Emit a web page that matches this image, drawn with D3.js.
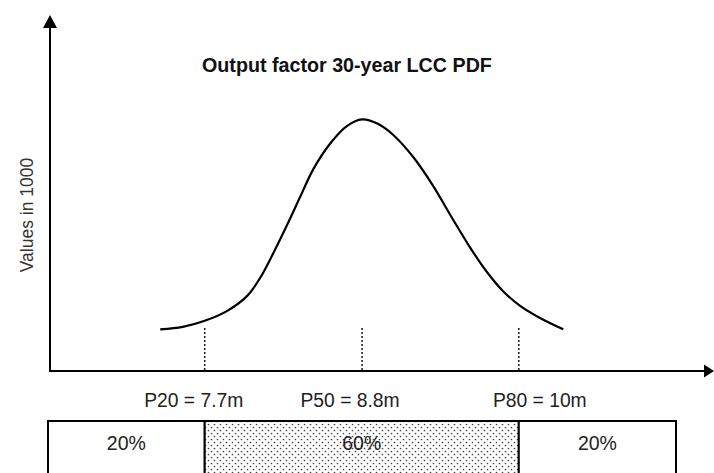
<!DOCTYPE html>
<html>
<head>
<meta charset="utf-8">
<script src="https://cdn.jsdelivr.net/npm/d3@7/dist/d3.min.js"></script>
<style>
  html, body { margin: 0; padding: 0; background: #fff; }
  svg { display: block; }
  text { font-family: "Liberation Sans", Arial, sans-serif; }
</style>
</head>
<body>
<script>
// ---- Data (schematic units) ----
const title = "Output factor 30-year LCC PDF";
const yLabel = "Values in 1000";
// PDF curve: position along the x axis (0-100) and density (0-100)
const curveX = [16.6, 20.0, 23.3, 26.7, 29.7, 31.6, 33.6, 35.7, 37.7, 39.6, 42.2, 44.7, 47.0,
                49.3, 51.7, 54.7, 57.7, 60.2, 63.3, 65.8, 68.2, 70.8, 73.8, 77.3];
const curveY = [11.7, 12.4, 14.1, 16.9, 21.1, 26.0, 33.0, 41.0, 49.0, 56.5, 63.9, 68.8, 70.7,
                69.5, 66.3, 60.1, 52.0, 44.1, 34.6, 27.8, 22.5, 18.3, 14.9, 11.7];
// percentile markers
const percentileNames = ["P20", "P50", "P80"];
const percentileValues = ["7.7m", "8.8m", "10m"];
const percentilePos = [23.3, 47.0, 70.6];
const markerHeight = 12.1;
// probability bands
const bandLabels = ["20%", "60%", "20%"];

// ---- Layout ----
const W = 714, H = 473;
const labelDx = [-11, -12, 21];
const boxLeft = 48, boxRight = 676, boxTop = 421, boxBottom = 495;

const svg = d3.select("body").append("svg").attr("width", W).attr("height", H);

const x = d3.scaleLinear().domain([0, 100]).range([50, 714]);
const y = d3.scaleLinear().domain([0, 100]).range([371, 15]);

const defs = svg.append("defs");
const pat = defs.append("pattern").attr("id", "dots")
  .attr("patternUnits", "userSpaceOnUse").attr("width", 6).attr("height", 6);
pat.append("rect").attr("width", 6).attr("height", 6).attr("fill", "#fff");
pat.append("circle").attr("cx", 1.5).attr("cy", 1.5).attr("r", 0.85).attr("fill", "#444");
pat.append("circle").attr("cx", 4.5).attr("cy", 4.5).attr("r", 0.85).attr("fill", "#444");

// ---- Axes with arrows ----
const x0 = x(0), y0 = y(0);
svg.append("line").attr("x1", x0).attr("y1", y0 + 1).attr("x2", x0).attr("y2", y(100) + 12)
  .attr("stroke", "#000").attr("stroke-width", 2);
svg.append("path")
  .attr("d", `M${x0},${y(100)} L${x0 - 7},${y(100) + 13} L${x0 + 7},${y(100) + 13} Z`)
  .attr("fill", "#000");
svg.append("line").attr("x1", x0).attr("y1", y0).attr("x2", x(100) - 9).attr("y2", y0)
  .attr("stroke", "#000").attr("stroke-width", 2);
svg.append("path")
  .attr("d", `M${x(100)},${y0} L${x(100) - 10},${y0 - 6.5} L${x(100) - 10},${y0 + 6.5} Z`)
  .attr("fill", "#000");

// ---- Title and axis label ----
svg.append("text").attr("x", 202).attr("y", 72)
  .attr("font-size", 19.7).attr("font-weight", "bold").attr("fill", "#111")
  .text(title);
svg.append("text")
  .attr("transform", `translate(33,215) rotate(-90)`)
  .attr("text-anchor", "middle").attr("font-size", 17.5).attr("fill", "#333")
  .text(yLabel);

// ---- Curve ----
const pts = curveX.map((v, i) => [v, curveY[i]]);
svg.append("path").datum(pts)
  .attr("d", d3.line().x(d => x(d[0])).y(d => y(d[1])).curve(d3.curveCatmullRom.alpha(0.5)))
  .attr("fill", "none").attr("stroke", "#000").attr("stroke-width", 2.2);

// ---- Percentile markers ----
svg.selectAll("line.marker").data(percentilePos).enter().append("line")
  .attr("class", "marker")
  .attr("x1", d => x(d)).attr("x2", d => x(d))
  .attr("y1", y0 - 1).attr("y2", y(markerHeight))
  .attr("stroke", "#222").attr("stroke-width", 1.6).attr("stroke-dasharray", "2,2");

svg.selectAll("text.plabel").data(percentilePos).enter().append("text")
  .attr("class", "plabel")
  .attr("x", (d, i) => x(d) + labelDx[i]).attr("y", 407)
  .attr("text-anchor", "middle").attr("font-size", 19.3).attr("fill", "#222")
  .text((d, i) => `${percentileNames[i]} = ${percentileValues[i]}`);

// ---- Probability band box ----
const edges = [boxLeft, x(percentilePos[0]), x(percentilePos[2]), boxRight];
const bands = bandLabels.map((l, i) => ({ label: l, x0: edges[i], x1: edges[i + 1] }));

svg.selectAll("rect.band").data(bands).enter().append("rect")
  .attr("class", "band")
  .attr("x", d => d.x0).attr("y", boxTop)
  .attr("width", d => d.x1 - d.x0).attr("height", boxBottom - boxTop)
  .attr("fill", (d, i) => i === 1 ? "url(#dots)" : "#fff")
  .attr("stroke", "#000").attr("stroke-width", 2);

svg.selectAll("text.band").data(bands).enter().append("text")
  .attr("class", "band")
  .attr("x", d => (d.x0 + d.x1) / 2).attr("y", 450)
  .attr("text-anchor", "middle").attr("font-size", 19.5).attr("fill", "#222")
  .text(d => d.label);
</script>
</body>
</html>
